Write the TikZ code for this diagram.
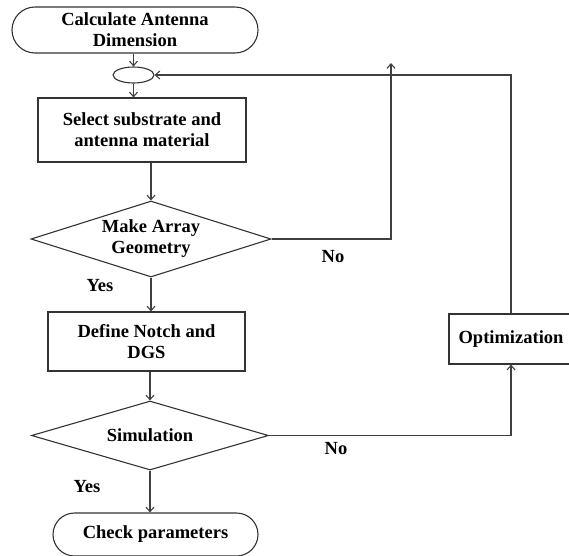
\documentclass[tikz,border=0pt]{standalone}
\usepackage{fontspec}
\setmainfont{Liberation Serif}
\usetikzlibrary{shapes.geometric,shapes.misc,arrows.meta}

\begin{document}
\begin{tikzpicture}[x=1pt,y=-1pt,>={Straight Barb[length=4.5pt,width=8pt]},line width=1.1pt,
    every node/.style={font=\bfseries\fontsize{18.5}{21}\selectfont,align=center,inner sep=0pt},
    term/.style={rounded rectangle,draw=black!80},
    proc/.style={rectangle,draw=black!80},
    dec/.style={diamond,draw=black!80,aspect=3.1},
    flow/.style={->,draw=black!75}]

            \useasboundingbox (0,0) rectangle (569,555);

            \node[term, minimum width=246pt, minimum height=46pt] (calc) at (135,30) {Calculate Antenna\\Dimension};
            \node[ellipse, draw=black!80, minimum width=41pt, minimum height=16pt] (join) at (133.5,75) {};
            \node[proc, minimum width=208pt, minimum height=64pt] (sel) at (142,130) {Select substrate and\\antenna material};
            \node[dec, minimum width=240pt, minimum height=76pt] (geo) at (151,239) {Make Array\\Geometry};
            \node[proc, minimum width=197pt, minimum height=59pt] (notch) at (146.5,341.5) {Define Notch and\\DGS};
            \node[dec, minimum width=237pt, minimum height=69pt] (sim) at (150,435.5) {Simulation};
            \node[term, minimum width=205pt, minimum height=43pt] (check) at (155.5,534.5) {Check parameters};
            \node[proc, minimum width=124pt, minimum height=50pt] (opt) at (511,339) {Optimization};

            \node (no1) at (333,257) {No};
            \node (yes1) at (100,286) {Yes};
            \node (no2) at (336,449) {No};
            \node (yes2) at (87,487) {Yes};

            \coordinate (up) at (391,63);

            \draw[flow] (calc.south -| join.north) -- (join.north);
            \draw[flow] (join.south) -- (join.south |- sel.north);
            \draw[flow] (sel.south -| geo.north) -- (geo.north);
            \draw[flow] (geo.south) -- (geo.south |- notch.north);
            \draw[flow] (notch.south -| sim.north) -- (sim.north);
            \draw[flow] (sim.south) -- (sim.south |- check.north);
            \draw[flow] (geo.east) -| (up);
            \draw[flow] (sim.east) -| (opt.south);
            \draw[flow] (opt.north) |- (join.east);

            ;
        \end{tikzpicture}
\end{document}
